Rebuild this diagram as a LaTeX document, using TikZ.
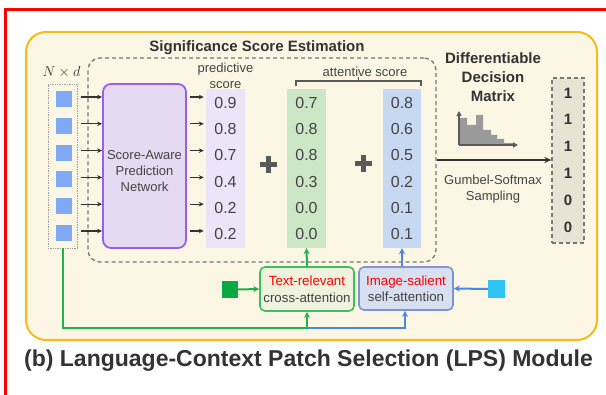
\documentclass[tikz,border=0pt]{standalone}
\usepackage{fontspec}
\setmainfont{Liberation Sans}
\usetikzlibrary{arrows.meta}

\definecolor{redframe}{HTML}{FF0000}
\definecolor{panelfill}{HTML}{FCF6E4}
\definecolor{panelborder}{HTML}{F9BA1A}
\definecolor{tokenblue}{HTML}{7FA9F5}
\definecolor{netfill}{HTML}{E6DAF2}
\definecolor{netborder}{HTML}{9B5CF0}
\definecolor{predfill}{HTML}{ECE4F8}
\definecolor{crossfill}{HTML}{CBE7C6}
\definecolor{selffill}{HTML}{C7D8F3}
\definecolor{txtboxfill}{HTML}{EFF2DC}
\definecolor{txtboxline}{HTML}{3DBE5F}
\definecolor{imgboxfill}{HTML}{D6E0F0}
\definecolor{imgboxline}{HTML}{7D94CE}
\definecolor{textsq}{HTML}{08A843}
\definecolor{imgsq}{HTML}{2CC3F4}
\definecolor{flowgreen}{HTML}{1FB34E}
\definecolor{flowblue}{HTML}{4A86E8}
\definecolor{ink}{HTML}{444444}
\definecolor{darkink}{HTML}{333333}
\definecolor{decfill}{HTML}{E8E4D4}
\definecolor{histfill}{HTML}{9A9A9A}
\definecolor{dashgray}{HTML}{777777}
\definecolor{dotgray}{HTML}{A0A0A0}
\definecolor{plusgray}{HTML}{5A5A5A}

\begin{document}
\begin{tikzpicture}[x=1pt,y=-1pt,
  arr/.style={draw=darkink, line width=1.1pt, -{Stealth[length=5pt,width=4.5pt]}},
  num/.style={text=ink, font=\fontsize{16}{18}\selectfont, inner sep=0pt},
  decnum/.style={text=darkink, font=\bfseries\fontsize{15}{17}\selectfont, inner sep=0pt},
  tok/.style={fill=tokenblue, minimum size=16pt, inner sep=0pt},
  scorecol/.style={minimum width=39pt, minimum height=159pt, inner sep=0pt},
  attnbox/.style={line width=1.6pt, rounded corners=5pt, minimum width=94pt, minimum height=44pt,
    inner sep=0pt, align=center, font=\fontsize{13.3}{16.5}\selectfont, text=ink},
  label/.style={text=ink, align=center, font=\fontsize{13}{16}\selectfont, inner sep=0pt},
  heading/.style={text=darkink, align=center, font=\bfseries\fontsize{15}{19}\selectfont, inner sep=0pt},
  plussign/.style={minimum size=17pt, inner sep=0pt,
    path picture={
      \draw[plusgray, line width=5pt] (path picture bounding box.west) -- (path picture bounding box.east);
      \draw[plusgray, line width=5pt] (path picture bounding box.north) -- (path picture bounding box.south);}},
]
\useasboundingbox (0,0) rectangle (606,395);

% frame lines along the top and left edges
\draw[redframe, line width=3pt] (5.5,395) -- (5.5,9.5) -- (606,9.5);

% module panel
\node[draw=panelborder, fill=panelfill, line width=2pt, rounded corners=20pt,
      minimum width=571pt, minimum height=308pt, inner sep=0pt] (panel) at (311.5,186) {};

% significance score estimation region
\node[draw=dashgray, dash pattern=on 4pt off 3pt, line width=1.3pt, rounded corners=12pt,
      minimum width=348pt, minimum height=204pt, inner sep=0pt] (sigbox) at (262,160) {};
\node[heading] (sigtitle) at (257,48) {Significance Score Estimation};

% patch tokens
\node[font=\fontsize{14}{16}\selectfont, text=darkink, inner sep=0pt] (nd) at (61.5,72) {$N\times d$};
\node[draw=dotgray, densely dotted, line width=0.7pt, minimum width=29pt, minimum height=164pt,
      inner sep=0pt] (tokcol) at (62.5,166) {};
\foreach \i in {1,...,6}
  \node[tok] (t\i) at (63.5,{99+26.8*(\i-1)}) {};

% score-aware prediction network
\node[draw=netborder, fill=netfill, line width=1.8pt, rounded corners=8pt,
      minimum width=83pt, minimum height=164pt, inner sep=0pt] (net) at (144.5,166) {};
\node[label] (nettext) at (144.5,171) {Score-Aware\\Prediction\\Network};

% score columns
\node[scorecol, fill=predfill] (pred) at (225.5,168.5) {};
\node[scorecol, fill=crossfill] (crosscol) at (306.5,168.5) {};
\node[scorecol, fill=selffill, minimum width=38pt] (selfcol) at (402,168.5) {};

\node[label] (predlabel) at (225.5,76) {predictive\\score};
\node[label] (attlabel) at (365,72) {attentive score};
\draw[plusgray, line width=1.2pt] (296,86) -- (296,81) -- (421,81) -- (421,86);
\draw[plusgray, line width=1.2pt] (358.5,81) -- (358.5,77.5);

\foreach \v [count=\i] in {0.9,0.8,0.7,0.4,0.2,0.2}
  \node[num] (p\i) at (225.5,{103+26.2*(\i-1)}) {\v};
\foreach \v [count=\i] in {0.7,0.8,0.8,0.3,0.0,0.0}
  \node[num] (c\i) at (306.5,{103+26.2*(\i-1)}) {\v};
\foreach \v [count=\i] in {0.8,0.6,0.5,0.2,0.1,0.1}
  \node[num] (s\i) at (402,{103+26.2*(\i-1)}) {\v};

\node[plussign] (plus1) at (268.5,165) {};
\node[plussign] (plus2) at (363.5,164) {};

% token -> network -> predictive score
\foreach \i in {1,...,6} {
  \draw[arr] ([xshift=9pt,yshift=2pt]t\i.east) -- ([yshift=2pt]t\i -| net.west);
  \draw[arr] ([xshift=3pt,yshift=2pt]t\i -| net.east) -- ([xshift=-2pt,yshift=2pt]t\i -| pred.west);
}

% attention modules
\node[attnbox, draw=txtboxline, fill=txtboxfill] (txtbox) at (307,289)
  {\textcolor{red}{Text-relevant}\\cross-attention};
\node[attnbox, draw=imgboxline, fill=imgboxfill, minimum height=43pt] (imgbox) at (406,288.5)
  {\textcolor{red}{Image-salient}\\self-attention};

\node[fill=textsq, minimum width=16pt, minimum height=17pt, inner sep=0pt] (gsq) at (230,289.5) {};
\node[fill=imgsq, minimum width=17pt, minimum height=18pt, inner sep=0pt] (csq) at (496.5,289) {};

\draw[flowgreen, line width=2pt, -{Stealth[length=6pt,width=6pt]}] (gsq.east) -- (txtbox.west);
\draw[flowblue, line width=2pt, -{Stealth[length=6pt,width=6pt]}] (csq.west) -- (imgbox.east);

\draw[flowgreen, line width=2pt, -{Stealth[length=6pt,width=6pt]}] (txtbox.north) -- (crosscol.south);
\draw[flowblue, line width=2pt, -{Stealth[length=6pt,width=6pt]}] (imgbox.north -| selfcol.south) -- (selfcol.south);

% token features routed into both attention modules
\coordinate (bend) at (63,328);
\coordinate (split) at (307,328);
\coordinate (bluebend) at (405,328);
\draw[flowblue, line width=2pt, -{Stealth[length=6pt,width=6pt]}] (split) -- (bluebend) -- (bluebend |- imgbox.south);
\draw[flowgreen, line width=2pt, -{Stealth[length=6pt,width=6pt]}] (tokcol.south -| bend) -- (bend) -- (split) -- (txtbox.south);

% differentiable decision matrix
\node[heading] (dectitle) at (493,77) {Differentiable\\Decision\\Matrix};
\coordinate (historigin) at (459,145);
\fill[histfill] (460,145) -- (460,118) -- (467,118) -- (467,125) -- (476,125) -- (476,115)
  -- (483,115) -- (483,130) -- (491,130) -- (491,135) -- (497,135) -- (497,139)
  -- (504,139) -- (504,143) -- (513,143) -- (513,145) -- cycle;
\draw[plusgray, line width=1.5pt, -{Triangle[length=5pt,width=5pt]}] (historigin) -- (518,145);
\draw[plusgray, line width=1.5pt, -{Triangle[length=5pt,width=5pt]}] (historigin) -- (459,111);

\node[draw=dashgray, fill=decfill, dash pattern=on 4pt off 3pt, line width=1.3pt,
      minimum width=32pt, minimum height=165pt, inner sep=0pt] (dec) at (568,160.5) {};
\foreach \v [count=\i] in {1,1,1,1,0,0}
  \node[decnum] (d\i) at (568,{93+26.8*(\i-1)}) {\v};

\draw[darkink, line width=1.6pt, -{Stealth[length=7pt,width=6pt]}] (sigbox.east) -- (sigbox.east -| dec.west);
\node[label] (gumbel) at (493,189.5) {Gumbel-Softmax\\Sampling};

% caption
\node[text=darkink, font=\bfseries\fontsize{23}{26}\selectfont, inner sep=0pt] (caption) at (308.5,361)
  {(b) Language-Context Patch Selection (LPS) Module};
\end{tikzpicture}
\end{document}
